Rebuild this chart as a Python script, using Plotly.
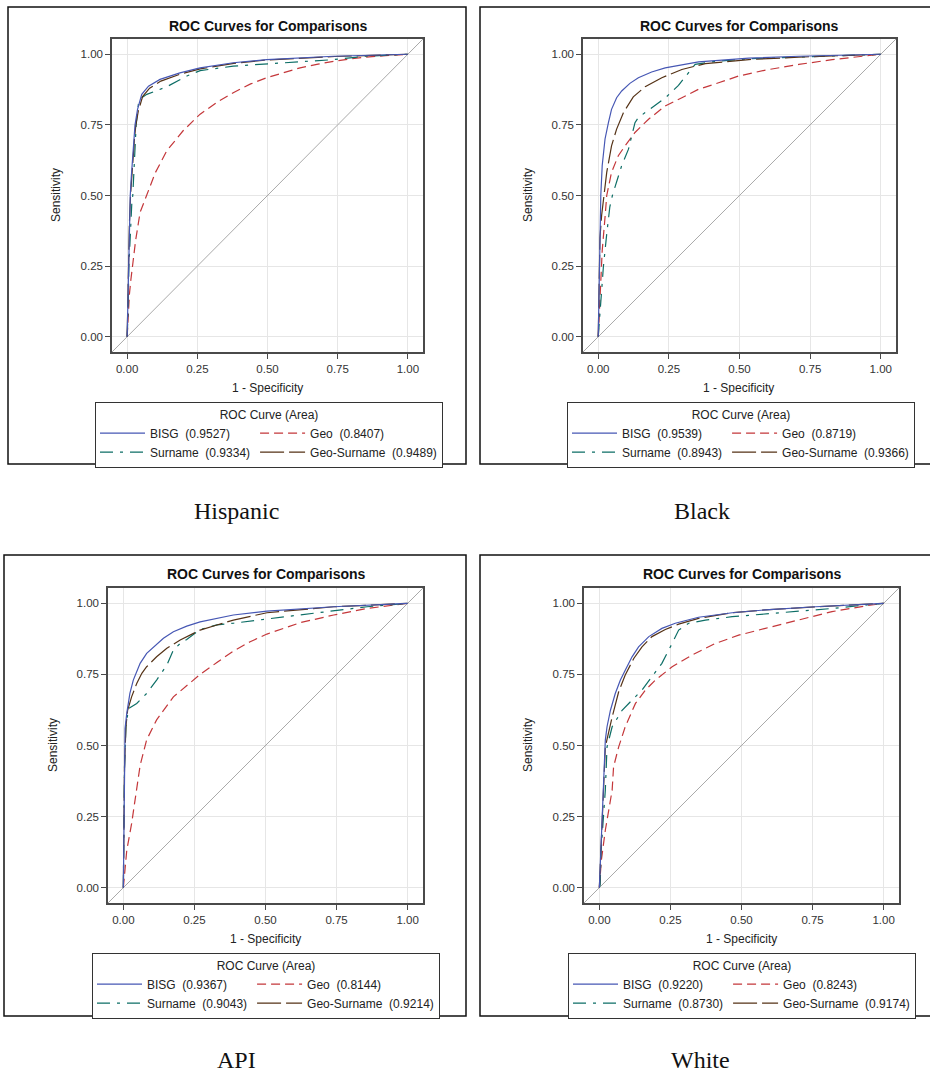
import plotly.graph_objects as go

# ---------------- data ----------------
RACES = ["Hispanic", "Black", "API", "White"]
MODELS = ["BISG", "Geo", "Surname", "Geo-Surname"]
TICKS = [0.0, 0.25, 0.5, 0.75, 1.0]
TICK_LABELS = ["0.00", "0.25", "0.50", "0.75", "1.00"]
DIAG = [-0.1, 1.1]

AUC_HISPANIC = [0.9527, 0.8407, 0.9334, 0.9489]
AUC_BLACK = [0.9539, 0.8719, 0.8943, 0.9366]
AUC_API = [0.9367, 0.8144, 0.9043, 0.9214]
AUC_WHITE = [0.9220, 0.8243, 0.8730, 0.9174]

# Hispanic
HISP_BISG_FPR = [0, 0.003, 0.005, 0.008, 0.011, 0.015, 0.019, 0.024, 0.028, 0.037, 0.052, 0.076, 0.117, 0.188, 0.26, 0.378, 0.497, 0.735, 1]
HISP_BISG_TPR = [0, 0.15, 0.28, 0.40, 0.50, 0.57, 0.63, 0.70, 0.75, 0.805, 0.858, 0.887, 0.911, 0.934, 0.952, 0.970, 0.981, 0.993, 1]
HISP_GEO_FPR = [0, 0.004, 0.008, 0.013, 0.02, 0.03, 0.046, 0.07, 0.1, 0.141, 0.2, 0.26, 0.32, 0.378, 0.44, 0.497, 0.56, 0.616, 0.68, 0.735, 0.8, 0.85, 0.92, 1]
HISP_GEO_TPR = [0, 0.08, 0.15, 0.20, 0.26, 0.34, 0.44, 0.50, 0.58, 0.658, 0.73, 0.788, 0.83, 0.864, 0.895, 0.917, 0.936, 0.952, 0.965, 0.975, 0.984, 0.99, 0.995, 1]
HISP_SUR_FPR = [0, 0.003, 0.006, 0.012, 0.017, 0.02, 0.032, 0.04, 0.052, 0.07, 0.141, 0.213, 0.26, 0.378, 0.497, 0.735, 0.85, 1]
HISP_SUR_TPR = [0, 0.08, 0.246, 0.40, 0.482, 0.50, 0.75, 0.823, 0.846, 0.858, 0.885, 0.923, 0.942, 0.958, 0.966, 0.981, 0.993, 1]
HISP_GS_FPR = [0, 0.002, 0.004, 0.008, 0.012, 0.016, 0.021, 0.026, 0.031, 0.04, 0.055, 0.08, 0.12, 0.19, 0.26, 0.38, 0.5, 0.74, 1]
HISP_GS_TPR = [0, 0.15, 0.29, 0.40, 0.50, 0.57, 0.64, 0.70, 0.75, 0.80, 0.85, 0.88, 0.905, 0.93, 0.948, 0.968, 0.98, 0.992, 1]

# Black
BLK_BISG_FPR = [0, 0.002, 0.004, 0.006, 0.009, 0.014, 0.024, 0.036, 0.047, 0.065, 0.083, 0.112, 0.142, 0.189, 0.237, 0.355, 0.533, 0.71, 1]
BLK_BISG_TPR = [0, 0.12, 0.25, 0.38, 0.50, 0.606, 0.70, 0.758, 0.805, 0.846, 0.87, 0.897, 0.917, 0.937, 0.952, 0.973, 0.986, 0.993, 1]
BLK_GEO_FPR = [0, 0.001, 0.006, 0.014, 0.024, 0.03, 0.047, 0.071, 0.095, 0.13, 0.178, 0.237, 0.296, 0.355, 0.426, 0.497, 0.592, 0.71, 0.828, 0.947, 1]
BLK_GEO_TPR = [0, 0.02, 0.152, 0.305, 0.423, 0.50, 0.582, 0.641, 0.676, 0.723, 0.77, 0.817, 0.846, 0.876, 0.899, 0.923, 0.944, 0.964, 0.981, 0.993, 1]
BLK_SUR_FPR = [0, 0.003, 0.009, 0.018, 0.03, 0.041, 0.05, 0.065, 0.083, 0.107, 0.13, 0.142, 0.189, 0.237, 0.284, 0.32, 0.343, 0.414, 0.533, 0.71, 0.83, 1]
BLK_SUR_TPR = [0, 0.04, 0.13, 0.246, 0.364, 0.46, 0.50, 0.55, 0.606, 0.664, 0.758, 0.776, 0.81, 0.845, 0.89, 0.935, 0.964, 0.975, 0.984, 0.99, 0.995, 1]
BLK_GS_FPR = [0, 0.001, 0.003, 0.006, 0.012, 0.021, 0.03, 0.047, 0.065, 0.089, 0.124, 0.166, 0.225, 0.296, 0.379, 0.533, 0.71, 1]
BLK_GS_TPR = [0, 0.10, 0.25, 0.35, 0.43, 0.50, 0.582, 0.676, 0.735, 0.793, 0.849, 0.885, 0.917, 0.946, 0.967, 0.981, 0.99, 1]

# API
API_BISG_FPR = [0, 0.002, 0.004, 0.006, 0.012, 0.023, 0.035, 0.059, 0.082, 0.106, 0.141, 0.176, 0.223, 0.27, 0.387, 0.505, 0.74, 1]
API_BISG_TPR = [0, 0.20, 0.42, 0.56, 0.613, 0.683, 0.73, 0.789, 0.824, 0.847, 0.877, 0.90, 0.92, 0.935, 0.959, 0.973, 0.988, 1]
API_GEO_FPR = [0, 0.004, 0.012, 0.029, 0.047, 0.059, 0.082, 0.117, 0.176, 0.223, 0.27, 0.329, 0.387, 0.446, 0.505, 0.622, 0.74, 0.857, 1]
API_GEO_TPR = [0, 0.038, 0.131, 0.225, 0.343, 0.43, 0.52, 0.59, 0.671, 0.712, 0.75, 0.792, 0.832, 0.865, 0.892, 0.932, 0.959, 0.982, 1]
API_SUR_FPR = [0, 0.002, 0.004, 0.009, 0.018, 0.047, 0.082, 0.117, 0.153, 0.176, 0.2, 0.223, 0.27, 0.329, 0.387, 0.505, 0.622, 0.74, 0.857, 1]
API_SUR_TPR = [0, 0.20, 0.42, 0.566, 0.63, 0.648, 0.683, 0.73, 0.783, 0.836, 0.859, 0.873, 0.908, 0.924, 0.93, 0.945, 0.959, 0.974, 0.988, 1]
API_GS_FPR = [0, 0.002, 0.004, 0.009, 0.015, 0.029, 0.047, 0.065, 0.082, 0.117, 0.153, 0.2, 0.27, 0.329, 0.387, 0.505, 0.74, 1]
API_GS_TPR = [0, 0.20, 0.42, 0.566, 0.624, 0.671, 0.718, 0.754, 0.777, 0.812, 0.842, 0.871, 0.906, 0.924, 0.941, 0.967, 0.988, 1]

# White
WHT_BISG_FPR = [0, 0.002, 0.004, 0.009, 0.015, 0.018, 0.021, 0.027, 0.039, 0.056, 0.074, 0.091, 0.115, 0.138, 0.174, 0.22, 0.267, 0.349, 0.467, 0.584, 0.76, 1]
WHT_BISG_TPR = [0, 0.05, 0.108, 0.225, 0.343, 0.43, 0.519, 0.566, 0.624, 0.683, 0.73, 0.765, 0.812, 0.847, 0.883, 0.912, 0.93, 0.951, 0.967, 0.977, 0.988, 1]
WHT_GEO_FPR = [0, 0.003, 0.007, 0.021, 0.045, 0.05, 0.068, 0.091, 0.127, 0.162, 0.197, 0.256, 0.326, 0.408, 0.49, 0.584, 0.701, 0.818, 0.936, 1]
WHT_GEO_TPR = [0, 0.05, 0.096, 0.202, 0.343, 0.425, 0.495, 0.566, 0.648, 0.695, 0.73, 0.777, 0.818, 0.859, 0.888, 0.912, 0.941, 0.971, 0.991, 1]
WHT_SUR_FPR = [0, 0.003, 0.006, 0.013, 0.021, 0.027, 0.045, 0.08, 0.115, 0.15, 0.185, 0.22, 0.256, 0.279, 0.314, 0.373, 0.467, 0.584, 0.701, 0.818, 0.936, 1]
WHT_SUR_TPR = [0, 0.01, 0.13, 0.225, 0.343, 0.495, 0.566, 0.624, 0.66, 0.695, 0.742, 0.789, 0.859, 0.906, 0.93, 0.941, 0.953, 0.962, 0.971, 0.982, 0.994, 1]
WHT_GS_FPR = [0, 0.002, 0.005, 0.01, 0.016, 0.021, 0.045, 0.068, 0.091, 0.121, 0.15, 0.185, 0.232, 0.279, 0.349, 0.467, 0.584, 0.76, 1]
WHT_GS_TPR = [0, 0.05, 0.11, 0.22, 0.34, 0.495, 0.60, 0.689, 0.748, 0.806, 0.847, 0.883, 0.908, 0.927, 0.947, 0.967, 0.977, 0.988, 1]

# ---------------- assembled tables ----------------
CURVES = {
    "Hispanic": {"BISG": (HISP_BISG_FPR, HISP_BISG_TPR), "Geo": (HISP_GEO_FPR, HISP_GEO_TPR),
                 "Surname": (HISP_SUR_FPR, HISP_SUR_TPR), "Geo-Surname": (HISP_GS_FPR, HISP_GS_TPR)},
    "Black": {"BISG": (BLK_BISG_FPR, BLK_BISG_TPR), "Geo": (BLK_GEO_FPR, BLK_GEO_TPR),
              "Surname": (BLK_SUR_FPR, BLK_SUR_TPR), "Geo-Surname": (BLK_GS_FPR, BLK_GS_TPR)},
    "API": {"BISG": (API_BISG_FPR, API_BISG_TPR), "Geo": (API_GEO_FPR, API_GEO_TPR),
            "Surname": (API_SUR_FPR, API_SUR_TPR), "Geo-Surname": (API_GS_FPR, API_GS_TPR)},
    "White": {"BISG": (WHT_BISG_FPR, WHT_BISG_TPR), "Geo": (WHT_GEO_FPR, WHT_GEO_TPR),
              "Surname": (WHT_SUR_FPR, WHT_SUR_TPR), "Geo-Surname": (WHT_GS_FPR, WHT_GS_TPR)},
}
AUCS = {"Hispanic": AUC_HISPANIC, "Black": AUC_BLACK, "API": AUC_API, "White": AUC_WHITE}

# ---------------- styling ----------------
W, H = 930, 1072
COLORS = {"BISG": "#4657b4", "Geo": "#c4373a", "Surname": "#0d6e66", "Geo-Surname": "#553216"}
DASHES = {"BISG": "solid", "Geo": "9px,5px", "Surname": "13px,7px,3px,7px", "Geo-Surname": "24px,5px"}
GROUPS = {"BISG": "c1", "Surname": "c1", "Geo": "c2", "Geo-Surname": "c2"}
RANKS = {"BISG": 1, "Surname": 2, "Geo": 3, "Geo-Surname": 4}
DRAW_ORDER = ["Geo", "Surname", "Geo-Surname", "BISG"]
SANS = "Liberation Sans, Arial, sans-serif"
SERIF = "Liberation Serif, Times New Roman, serif"

# pixel geometry of each panel: plot area (l, r, t, b), outer box, legend origin, text positions
GEOM = {
    "Hispanic": dict(plot=(112, 423, 39, 352), box=(8, 466, 7, 464), leg=(95, 402),
                     title=(268, 26), xt=(267, 388), yt=(56, 195), sub=(237, 511)),
    "Black": dict(plot=(583, 896, 39, 352), box=(480, 940, 7, 464), leg=(567, 402),
                  title=(739, 26), xt=(738, 388), yt=(528, 195), sub=(702, 511)),
    "API": dict(plot=(108, 423, 588, 903), box=(4, 466, 555, 1016), leg=(92, 953),
                title=(266, 574), xt=(265, 939), yt=(53, 745), sub=(237, 1060)),
    "White": dict(plot=(584, 899, 588, 903), box=(480, 940, 555, 1016), leg=(568, 953),
                  title=(742, 574), xt=(741, 939), yt=(528, 745), sub=(700, 1060)),
}

def px(x):
    return x / W

def py(y):
    return 1 - y / H

RANGE = [-0.054, 1.054]

fig = go.Figure()
layout = dict(width=W, height=H, margin=dict(l=0, r=0, t=0, b=0),
              paper_bgcolor="white", plot_bgcolor="white", showlegend=True,
              shapes=[], annotations=[])

for i, race in enumerate(RACES):
    n = i + 1
    xa = "x" if n == 1 else f"x{n}"
    ya = "y" if n == 1 else f"y{n}"
    leg = "legend" if n == 1 else f"legend{n}"
    g = GEOM[race]
    l, r, t, b = g["plot"]

    axis_common = dict(range=RANGE, tickvals=TICKS, ticktext=TICK_LABELS, showgrid=True,
                       gridcolor="#e6e6e6", gridwidth=1, zeroline=False, showline=True,
                       mirror=True, linecolor="#4a4a4a", linewidth=1.5, ticks="outside",
                       ticklen=5, tickwidth=1, tickcolor="#4a4a4a",
                       tickfont=dict(family=SANS, size=11.5, color="#333"), fixedrange=True)
    layout["xaxis" if n == 1 else f"xaxis{n}"] = dict(axis_common, domain=[px(l), px(r)], anchor=ya)
    layout["yaxis" if n == 1 else f"yaxis{n}"] = dict(axis_common, domain=[py(b), py(t)], anchor=xa)

    # reference diagonal
    fig.add_trace(go.Scatter(x=DIAG, y=DIAG, mode="lines", xaxis=xa, yaxis=ya,
                             line=dict(color="#a9a9a9", width=1), showlegend=False,
                             hoverinfo="skip"))
    for model in DRAW_ORDER:
        k = MODELS.index(model)
        fpr, tpr = CURVES[race][model]
        auc = AUCS[race][k]
        fig.add_trace(go.Scatter(
            x=fpr, y=tpr, mode="lines", xaxis=xa, yaxis=ya,
            name=f"{model}\u00a0 ({auc:.4f})",
            legend=leg, legendgroup=f"{race}-{GROUPS[model]}", legendrank=RANKS[model],
            line=dict(color=COLORS[model], width=1.2, dash=DASHES[model], shape="linear"),
        ))

    lx, ly = g["leg"]
    layout[leg] = dict(x=px(lx), y=py(ly), xanchor="left", yanchor="top",
                       orientation="h", traceorder="grouped", tracegroupgap=0,
                       bgcolor="white", bordercolor="#333", borderwidth=1,
                       itemwidth=45, itemclick=False, itemdoubleclick=False,
                       font=dict(family=SANS, size=12, color="#222"),
                       title=dict(text="ROC Curve (Area)", side="top center",
                                  font=dict(family=SANS, size=12, color="#222")))

    bx0, bx1, by0, by1 = g["box"]
    layout["shapes"].append(dict(type="rect", xref="paper", yref="paper",
                                 x0=px(bx0), x1=px(bx1), y0=py(by1), y1=py(by0),
                                 line=dict(color="#111", width=1.5), layer="below"))

    tx, ty = g["title"]
    layout["annotations"].append(dict(text="<b>ROC Curves for Comparisons</b>", x=px(tx), y=py(ty),
                                      xref="paper", yref="paper", showarrow=False,
                                      xanchor="center", yanchor="middle",
                                      font=dict(family=SANS, size=14, color="#111")))
    xtx, xty = g["xt"]
    layout["annotations"].append(dict(text="1 - Specificity", x=px(xtx), y=py(xty),
                                      xref="paper", yref="paper", showarrow=False,
                                      xanchor="center", yanchor="middle",
                                      font=dict(family=SANS, size=12, color="#222")))
    ytx, yty = g["yt"]
    layout["annotations"].append(dict(text="Sensitivity", x=px(ytx), y=py(yty), textangle=-90,
                                      xref="paper", yref="paper", showarrow=False,
                                      xanchor="center", yanchor="middle",
                                      font=dict(family=SANS, size=12, color="#222")))
    sx, sy = g["sub"]
    layout["annotations"].append(dict(text=race, x=px(sx), y=py(sy),
                                      xref="paper", yref="paper", showarrow=False,
                                      xanchor="center", yanchor="middle",
                                      font=dict(family=SERIF, size=24, color="#111")))

fig.update_layout(**layout)
fig.write_html("out.html", config={"displayModeBar": False})
